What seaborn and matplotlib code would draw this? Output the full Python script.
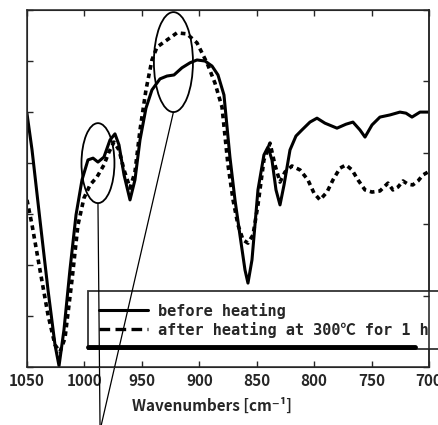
import numpy as np
import pandas as pd
import matplotlib
matplotlib.use('Agg')
import matplotlib.pyplot as plt
from matplotlib.lines import Line2D
from matplotlib.patches import Ellipse
import seaborn as sns

# spectrum before heating (wavenumber, transmittance in arbitrary %)
wn_before = [1050, 1045.6, 1038.7, 1031.7, 1025.6, 1022.1, 1017.8, 1012.6, 1007.3, 1002.1,
             996.9, 992.5, 988.2, 983.0, 977.7, 973.4, 969.9, 965.5, 960.3, 956.0,
             951.6, 946.4, 941.2, 934.2, 928.1, 922.0, 915.1, 908.1, 902.0, 895.0,
             888.9, 883.7, 878.5, 873.3, 868.9, 864.6, 860.2, 857.6, 854.1, 848.9,
             843.7, 840.2, 836.7, 833.2, 829.7, 826.2, 821.0, 815.8, 810.6, 803.6,
             797.5, 790.6, 780.1, 772.3, 766.2, 760.1, 755.7, 749.6, 742.7, 734.0,
             725.3, 720.0, 714.8, 707.8, 700.9]
t_before = [71.0, 60.8, 41.2, 21.6, 6.2, 0.3, 10.4, 27.2, 42.6, 52.4,
            58.0, 58.5, 57.4, 58.8, 63.6, 65.3, 62.2, 53.8, 46.8, 52.4,
            63.6, 72.5, 77.6, 80.7, 81.5, 81.8, 83.8, 85.2, 86.0, 85.7,
            84.3, 81.8, 76.2, 58.8, 46.8, 37.0, 27.2, 23.5, 30.0, 49.6,
            59.4, 61.6, 58.0, 49.6, 45.4, 51.0, 60.8, 64.7, 66.4, 68.6,
            69.7, 68.3, 66.9, 68.0, 68.6, 66.4, 64.4, 67.8, 70.0, 70.6,
            71.4, 71.1, 70.0, 71.4, 71.4]

# spectrum after heating at 300 C for 1 h
wn_after = [1050, 1045.6, 1038.7, 1031.7, 1025.6, 1021.3, 1016.9, 1010.8, 1005.6, 1000.4,
            995.1, 989.1, 983.0, 978.6, 974.3, 969.9, 965.5, 960.3, 956.0, 951.6,
            946.4, 941.2, 936.8, 928.1, 919.4, 910.7, 902.0, 893.3, 886.3, 880.2,
            875.0, 870.6, 866.3, 861.9, 857.6, 853.2, 848.9, 843.7, 838.4, 834.1,
            829.7, 825.4, 819.3, 812.3, 805.4, 800.1, 794.9, 788.8, 783.6, 777.5,
            772.3, 767.0, 761.8, 755.7, 749.6, 742.7, 735.7, 731.4, 727.0, 722.6,
            718.3, 714.1, 709.6, 705.2, 700.9]
t_after = [46.8, 39.8, 27.2, 14.6, 6.2, 4.2, 8.1, 24.4, 39.8, 47.3,
           51.0, 53.2, 56.6, 60.2, 63.0, 60.8, 55.2, 50.1, 54.6, 66.4,
           77.6, 86.0, 89.6, 91.6, 93.6, 93.3, 90.8, 85.2, 79.5, 72.8,
           56.6, 46.8, 39.8, 35.6, 34.7, 37.0, 45.4, 58.0, 62.7, 56.6,
           51.8, 54.6, 56.3, 55.2, 52.4, 48.7, 46.8, 49.0, 52.4, 55.7,
           56.6, 55.2, 52.4, 49.6, 49.0, 49.3, 51.5, 49.6, 50.4, 52.1,
           51.2, 51.0, 52.1, 53.8, 54.6]

x_ticks = [1050, 1000, 950, 900, 850, 800, 750, 700]
labels = ['before heating', 'after heating at 300\u2103 for 1 h']

# highlighted regions (center wn, center T, width, height) and pointer lines
circles = [(988.2, 57.1, 28.7, 22.4), (922.5, 85.4, 34.0, 28.0)]
pointers = [((988.2, 45.9), (986.4, -16.5)), ((922.5, 71.4), (985.5, -16.5))]

sns.set_style('ticks')
plt.rcParams['font.family'] = ['Noto Sans CJK JP', 'DejaVu Sans']

fig = plt.figure(figsize=(4.38, 4.25), dpi=100)
ax = fig.add_axes([0.0616, 0.1365, 0.9178, 0.84])

df_b = pd.DataFrame({'wn': wn_before, 't': t_before})
df_a = pd.DataFrame({'wn': wn_after, 't': t_after})
sns.lineplot(data=df_b, x='wn', y='t', ax=ax, color='black', lw=2.2, sort=False)
sns.lineplot(data=df_a, x='wn', y='t', ax=ax, color='black', lw=2.6, sort=False,
             dashes=False, linestyle=(0, (1.3, 1.1)))

ax.set_xlim(1050, 700)
ax.set_ylim(0, 100)
ax.set_xticks(x_ticks)
ax.set_xticklabels([str(v) for v in x_ticks], fontsize=11, fontweight='bold')
ax.set_yticks(np.linspace(0, 100, 8))
ax.set_yticklabels([])
ax.tick_params(axis='x', direction='in', top=True, length=4, width=1, pad=4)
ax.tick_params(axis='y', direction='in', left=True, length=4, width=1)
ax.set_ylabel('')
ax.set_xlabel('Wavenumbers [cm\u207b\u00b9]', fontsize=11, fontweight='bold',
              family=['Noto Sans CJK JP', 'DejaVu Sans'])
ax.xaxis.set_label_coords(0.46, -0.085)
for s in ax.spines.values():
    s.set_linewidth(1.1)

ax2 = ax.twinx()
ax2.set_ylim(0, 100)
ax2.set_yticks(np.linspace(0, 100, 6))
ax2.set_yticklabels([])
ax2.tick_params(axis='y', direction='in', length=4, width=1)
ax2.spines['right'].set_linewidth(1.1)

for cx, cy, w, h in circles:
    ax.add_patch(Ellipse((cx, cy), w, h, fill=False, ec='black', lw=1.3))
for (x0, y0), (x1, y1) in pointers:
    ax.plot([x0, x1], [y0, y1], color='black', lw=0.9, clip_on=False, zorder=6)

handles = [Line2D([], [], color='black', lw=2.2),
           Line2D([], [], color='black', lw=2.4, linestyle=(0, (3.2, 1.6)))]
leg = ax.legend(handles, labels, loc='upper left',
                bbox_to_anchor=(0.201, 0.181, 0.85, 0.134), mode='expand',
                bbox_transform=fig.transFigure, borderaxespad=0, frameon=True,
                fancybox=False, handlelength=3.2, handletextpad=0.6,
                labelspacing=0.2, borderpad=0.75,
                prop={'family': ['DejaVu Sans Mono', 'Noto Sans CJK JP'],
                      'weight': 'bold', 'size': 11})
leg.get_frame().set_edgecolor('black')
leg.get_frame().set_linewidth(1.3)
leg.set_zorder(5)
fig.add_artist(Line2D([0.201, 0.948], [0.183, 0.183], color='black', lw=3.5))

fig.savefig('out.png', dpi=100)
